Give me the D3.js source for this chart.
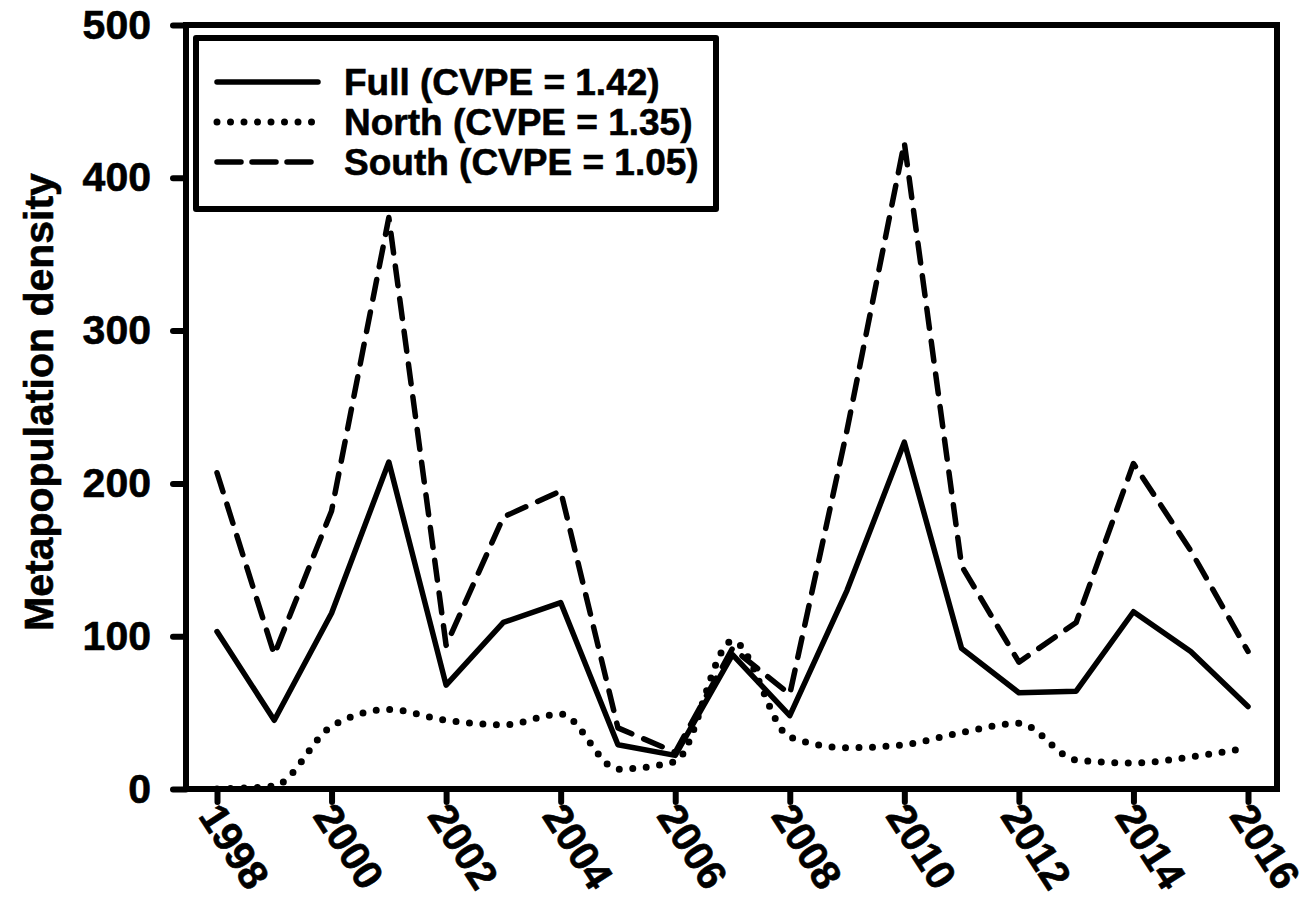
<!DOCTYPE html>
<html>
<head>
<meta charset="utf-8">
<script src="https://cdn.jsdelivr.net/npm/d3@7"></script>
<style>
html,body{margin:0;padding:0;background:#fff;}
svg text{font-family:"Liberation Sans",Arial,sans-serif;font-weight:bold;fill:#000;stroke:#000;stroke-width:0.6px;}
</style>
</head>
<body>
<svg id="chart" width="1313" height="913"></svg>
<script>
const years = [1998,1999,2000,2001,2002,2003,2004,2005,2006,2007,2008,2009,2010,2011,2012,2013,2014,2015,2016];
const fullValues  = [103,45,115,214,68,109,122,29,22,88,48,130,227,92,63,64,116,90,54];
const northValues = [0,2,41,52,45,42,49,13,18,97,34,27,29,37,43,19,17,21,27];
const southValues = [207,88,182,374,94,178,195,40,24,92,62,235,423,146,83,109,213,156,90];
const xTickYears = [1998,2000,2002,2004,2006,2008,2010,2012,2014,2016];
const yTicks = [0,100,200,300,400,500];
const legendLabels = ["Full (CVPE = 1.42)","North (CVPE = 1.35)","South (CVPE = 1.05)"];
const yTitle = "Metapopulation density";

const svg = d3.select("#chart");
const L = 186, R = 1277, T = 25, B = 789;
const x = d3.scaleLinear().domain([1998,2016]).range([217,1248]);
const y = d3.scaleLinear().domain([0,500]).range([B,T]);
const FONT = "Liberation Sans, Arial, sans-serif";

const styles = {
  full:  {dash:null, width:5.5, cap:"round"},
  north: {dash:"0,13.5", width:7, cap:"round"},
  south: {dash:"20,13", width:5.5, cap:"round"}
};

// data lines
const series = [
  {key:"south", values:southValues, curve:d3.curveLinear},
  {key:"full", values:fullValues, curve:d3.curveLinear},
  {key:"north", values:northValues, curve:d3.curveMonotoneX}
];
series.forEach(s=>{
  const line = d3.line().x((d,i)=>x(years[i])).y(d=>y(d)).curve(s.curve);
  const st = styles[s.key];
  svg.append("path").datum(s.values).attr("d",line)
    .attr("fill","none").attr("stroke","#000")
    .attr("stroke-width",st.width).attr("stroke-linecap",st.cap).attr("stroke-linejoin","round")
    .attr("stroke-dasharray",st.dash);
});

// frame (top/right)
svg.append("line").attr("x1",L).attr("x2",R).attr("y1",T).attr("y2",T).attr("stroke","#000").attr("stroke-width",6).attr("stroke-linecap","square");
svg.append("line").attr("x1",R).attr("x2",R).attr("y1",T).attr("y2",B).attr("stroke","#000").attr("stroke-width",6).attr("stroke-linecap","square");

// y axis
const yAxis = svg.append("g").attr("transform",`translate(${L},0)`)
  .call(d3.axisLeft(y).tickValues(yTicks).tickSize(13).tickPadding(22).tickFormat(d3.format("d")));
yAxis.attr("font-size",null).attr("font-family",null);
yAxis.select(".domain").attr("stroke","#000").attr("stroke-width",6).attr("d",`M0,${B}V${T}`);
yAxis.selectAll(".tick line").attr("stroke","#000").attr("stroke-width",6).attr("stroke-linecap","round");
yAxis.selectAll(".tick text").style("font-size","41px").style("font-family",FONT).attr("fill","#000");

// x axis
const xAxis = svg.append("g").attr("transform",`translate(0,${B})`)
  .call(d3.axisBottom(x).tickValues(xTickYears).tickSize(13).tickFormat(d3.format("d")));
xAxis.attr("font-size",null).attr("font-family",null);
xAxis.select(".domain").attr("stroke","#000").attr("stroke-width",6).attr("d",`M${L},0H${R}`);
xAxis.selectAll(".tick line").attr("stroke","#000").attr("stroke-width",6).attr("stroke-linecap","round");
xAxis.selectAll(".tick text")
  .style("font-size","41px").style("font-family",FONT).attr("fill","#000")
  .attr("text-anchor","start").attr("dy",null).attr("y",null)
  .attr("transform","translate(-20,27) rotate(57)");

// y title
svg.append("text").attr("transform",`translate(53,${(T+B)/2 - 5}) rotate(-90)`)
  .attr("text-anchor","middle").style("font-size","41px").text(yTitle);

// legend
svg.append("rect").attr("x",196).attr("y",38).attr("width",520).attr("height",171)
  .attr("fill","#fff").attr("stroke","#000").attr("stroke-width",6).attr("stroke-linejoin","round");
const legKeys = ["full","north","south"];
legKeys.forEach((k,i)=>{
  const cy = 82 + i*40;
  const st = styles[k];
  svg.append("line").attr("x1",217).attr("x2",318).attr("y1",cy).attr("y2",cy)
    .attr("stroke","#000").attr("stroke-width",st.width).attr("stroke-linecap",st.cap)
    .attr("stroke-dasharray", k==="south" ? "24,11" : st.dash);
  svg.append("text").attr("x",344).attr("y",cy).attr("dy","0.36em").style("font-size","37px").text(legendLabels[i]);
});
</script>
</body>
</html>
